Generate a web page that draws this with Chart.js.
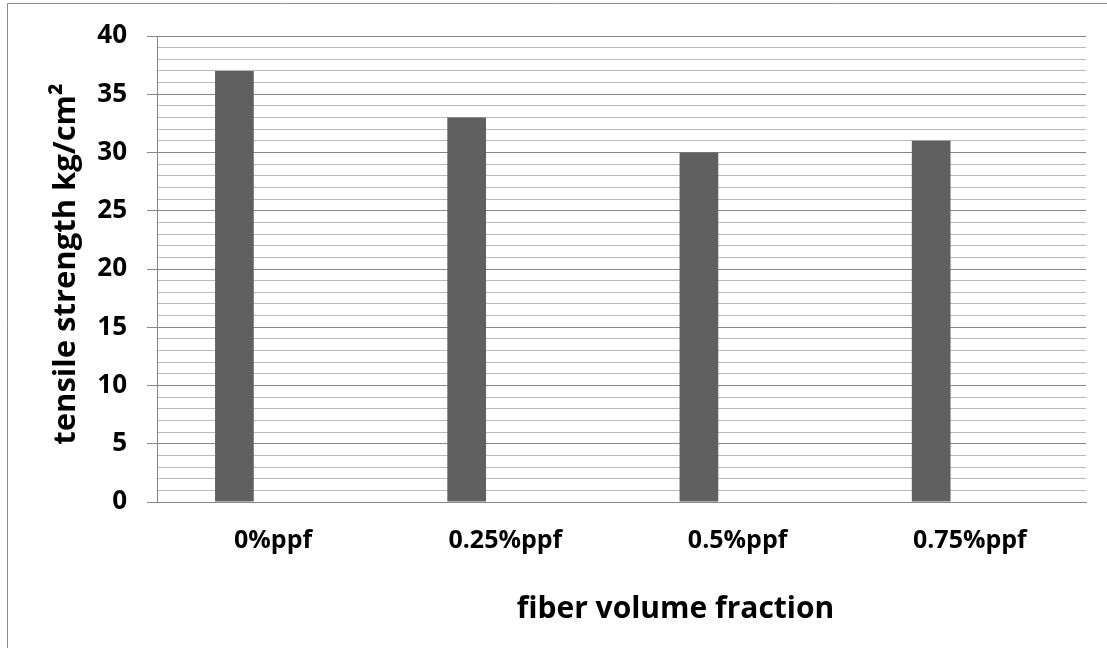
<!DOCTYPE html>
<html>
<head>
<meta charset="utf-8">
<script src="https://cdn.jsdelivr.net/npm/chart.js@4"></script>
<style>
html, body { margin: 0; padding: 0; background: #fff; overflow: hidden; }
#wrap { width: 1107px; height: 648px; position: relative; }
</style>
</head>
<body>
<div id="wrap"><canvas id="myChart"></canvas></div>
<script>
// data
var categories = ["0%ppf", "0.25%ppf", "0.5%ppf", "0.75%ppf"];
var tensileValues = [37, 33, 30, 31];
// the sheet had two more (empty) series, that is why the bars sit left
var emptySeries2 = [null, null, null, null];
var emptySeries3 = [null, null, null, null];
var yTicks = [0, 5, 10, 15, 20, 25, 30, 35, 40];
var xTitle = "fiber volume fraction";
var yTitle = "tensile strength kg/cm\u00B2";

var majorColor = "#878787";
var minorColor = "#b9b9b9";
var fontName = "'Open Sans'";

// border of the chart area + axis titles
var decor = {
    id: "decor",
    beforeDraw: function (chart) {
        var ctx = chart.ctx;
        ctx.save();
        ctx.strokeStyle = "#8c8c8c";
        ctx.lineWidth = 1;
        ctx.beginPath();
        ctx.moveTo(7.5, chart.height);
        ctx.lineTo(7.5, 3.5);
        ctx.lineTo(chart.width, 3.5);
        ctx.stroke();
        ctx.restore();
    },
    afterDraw: function (chart) {
        var ctx = chart.ctx;
        var area = chart.chartArea;
        ctx.save();
        ctx.fillStyle = "#000";
        ctx.textAlign = "center";
        ctx.textBaseline = "alphabetic";
        ctx.font = "bold 30px " + fontName;
        ctx.fillText(xTitle, (area.left + area.right) / 2 + 54, 618);
        ctx.font = "bold 31px " + fontName;
        ctx.translate(75, (area.top + area.bottom) / 2 - 5);
        ctx.rotate(-Math.PI / 2);
        ctx.fillText(yTitle, 0, 0);
        ctx.restore();
    },
};

function isMajor(v) {
    return yTicks.indexOf(v) >= 0;
}

const ctx = document.getElementById("myChart");
new Chart(ctx, {
    type: "bar",
    data: {
        labels: categories,
        datasets: [
            { label: "Series1", data: tensileValues, backgroundColor: "#606060" },
            { label: "Series2", data: emptySeries2, backgroundColor: "#909090" },
            { label: "Series3", data: emptySeries3, backgroundColor: "#b0b0b0" },
        ],
    },
    options: {
        responsive: true,
        maintainAspectRatio: false,
        animation: false,
        devicePixelRatio: 1,
        categoryPercentage: 0.5,
        barPercentage: 1,
        layout: { padding: { left: 0, top: 36, right: 21, bottom: 0 } },
        plugins: {
            legend: { display: false },
            tooltip: { enabled: false },
        },
        scales: {
            x: {
                grid: { display: false, drawTicks: false },
                border: { display: true, color: majorColor, width: 1 },
                ticks: {
                    color: "#000",
                    font: { family: fontName, size: 25, weight: "bold" },
                    padding: 24,
                    maxRotation: 0,
                    autoSkip: false,
                },
                afterFit: function (scale) {
                    scale.height = 146;
                },
            },
            y: {
                min: 0,
                max: 40,
                grid: {
                    color: function (c) {
                        return isMajor(c.tick.value) ? majorColor : minorColor;
                    },
                    tickColor: function (c) {
                        return isMajor(c.tick.value) ? majorColor : "rgba(0,0,0,0)";
                    },
                    lineWidth: 1,
                    tickLength: 10,
                },
                border: { display: true, color: majorColor, width: 1 },
                ticks: {
                    stepSize: 1,
                    maxTicksLimit: 100,
                    autoSkip: false,
                    padding: 20,
                    color: "#000",
                    font: { family: fontName, size: 26, weight: "bold" },
                    callback: function (v) {
                        return isMajor(v) ? v : "";
                    },
                },
                afterFit: function (scale) {
                    scale.width = 157;
                },
            },
        },
    },
    plugins: [decor],
});
</script>
</body>
</html>
